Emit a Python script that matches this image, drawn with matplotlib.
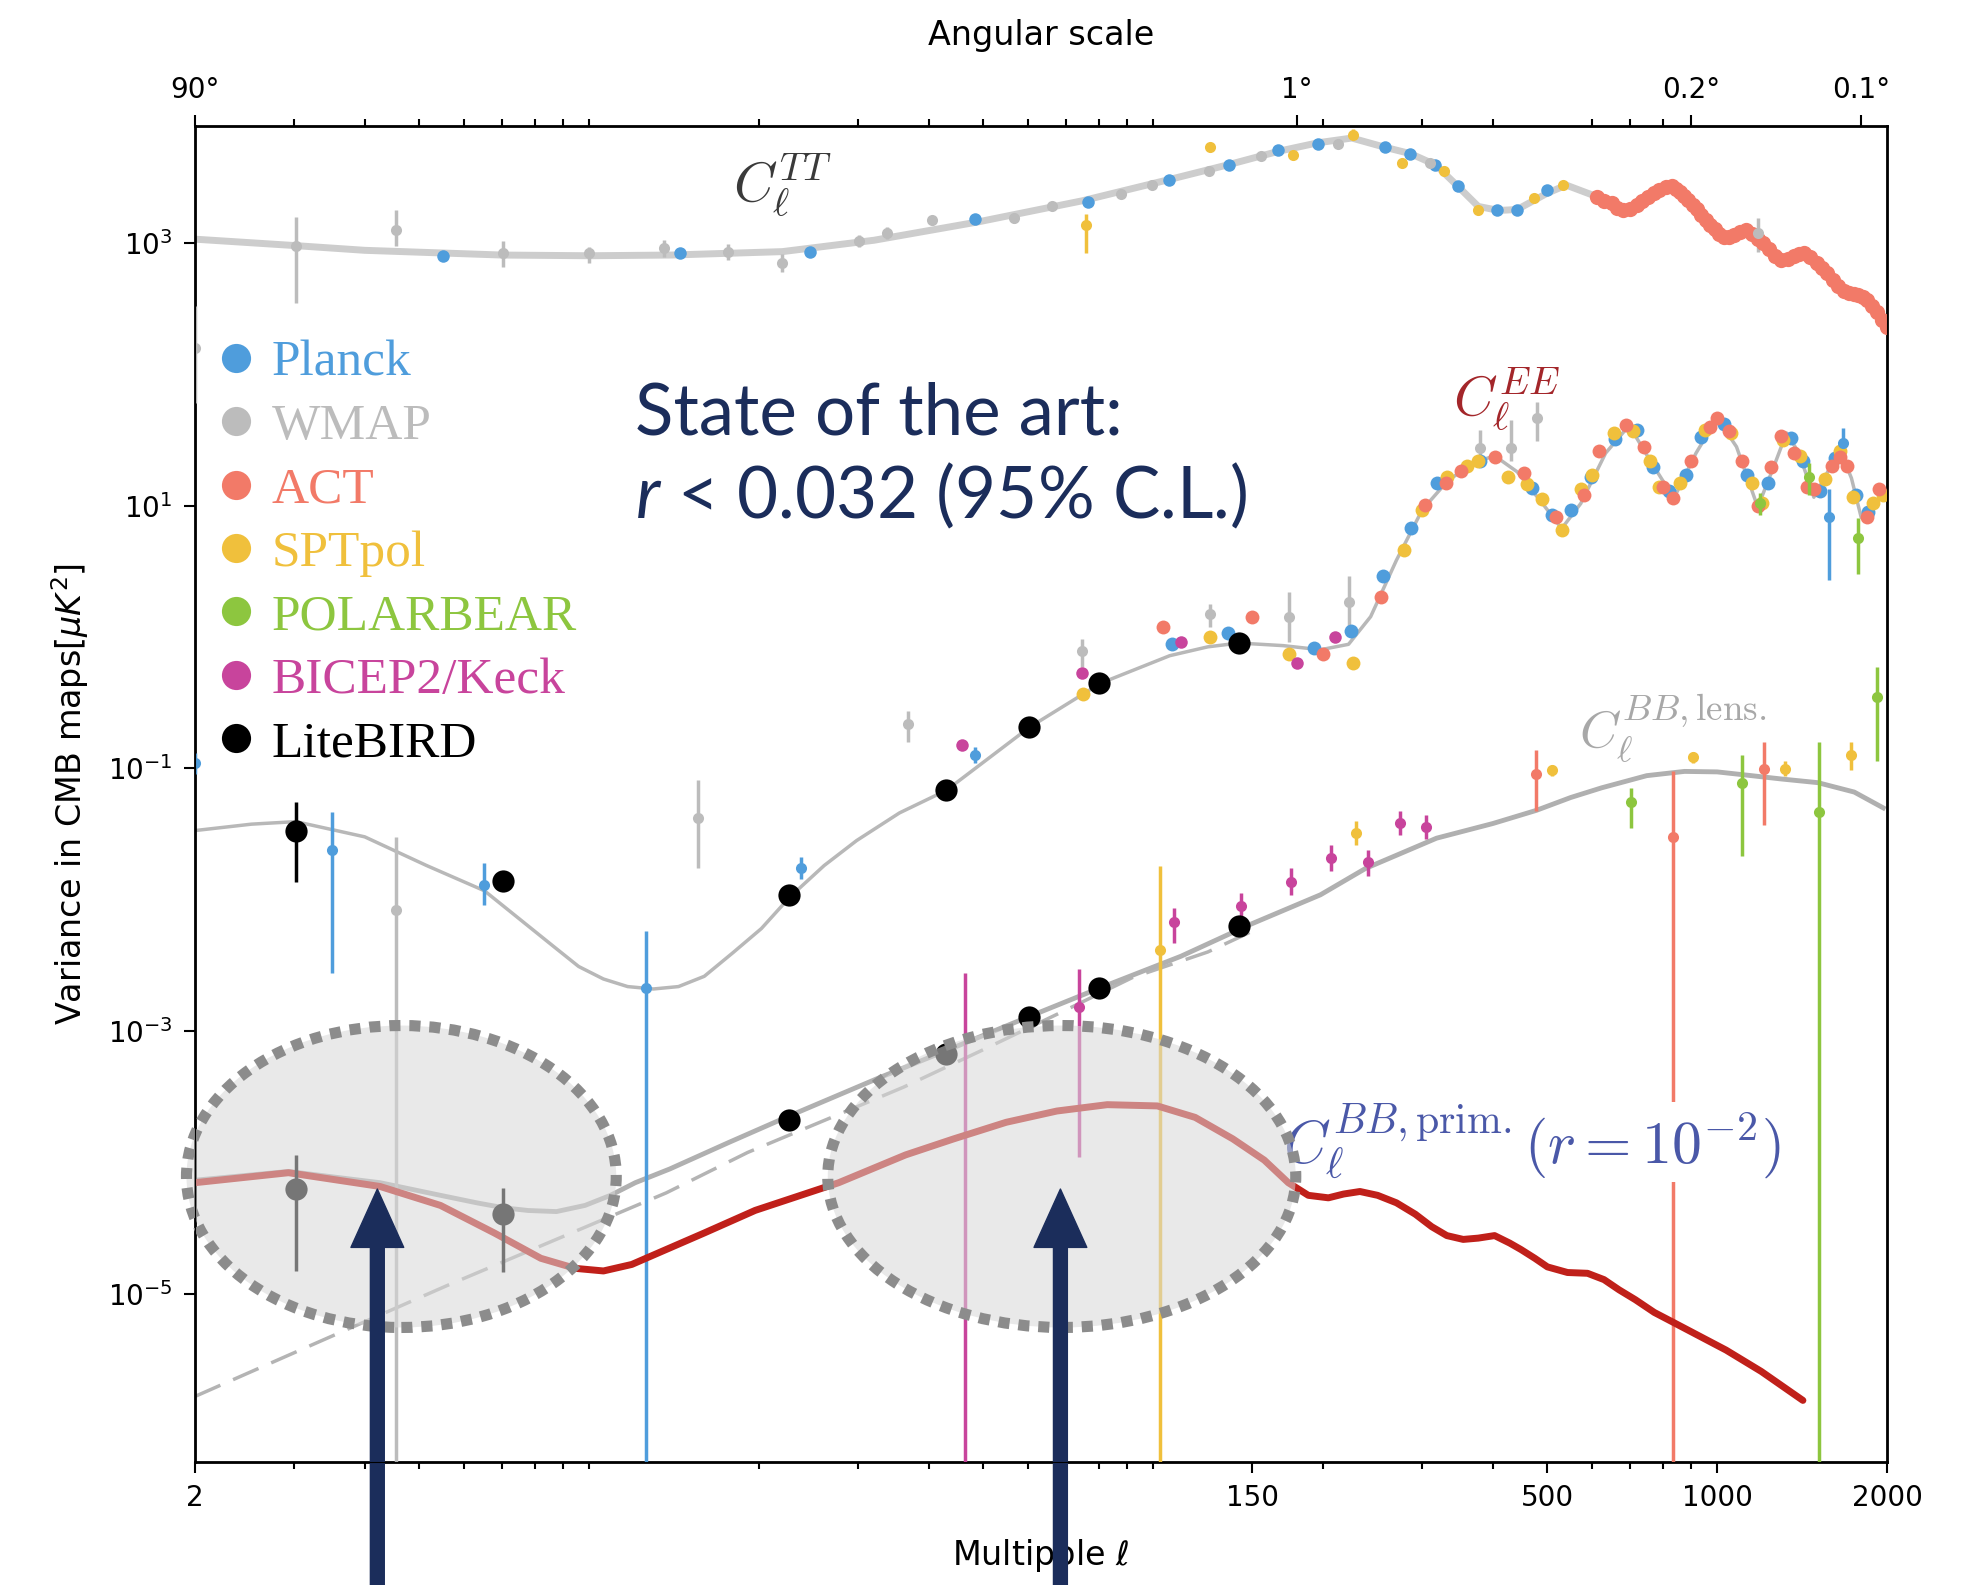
import numpy as np
import matplotlib
matplotlib.use('Agg')
import matplotlib.pyplot as plt
from matplotlib.patches import Ellipse
from matplotlib.lines import Line2D
from matplotlib.ticker import FixedLocator, NullFormatter

plt.rcParams['mathtext.rm'] = 'Lato'
plt.rcParams['mathtext.it'] = 'Lato:italic'

# theory curves, D_ell in muK^2
ell_tt = [2, 3, 4, 7, 10, 14, 22, 32, 49, 75, 107, 136, 167, 196, 225, 258, 286, 317, 347, 377,
          410, 442, 500, 540, 611, 681, 754, 832, 889, 955, 1027, 1126, 1235, 1300, 1426, 1500,
          1564, 1650, 1715, 1800, 1843, 1920, 2000]
cl_tt = [1070, 957, 880, 810, 800, 810, 860, 1050, 1450, 2100, 3050, 3950, 5000, 5800, 6300, 5350,
         4790, 3930, 2700, 1900, 1770, 1800, 2400, 2760, 2260, 1770, 2260, 2700, 2120, 1490, 1120,
         1250, 850, 720, 838, 650, 589, 440, 414, 390, 371, 290, 228]

ell_ee = [2, 2.52, 3.02, 4.0, 5.15, 6.52, 8.64, 9.58, 10.6, 11.7, 13.0, 14.4, 16.0, 18.0, 20.2,
          22.7, 26.1, 29.8, 35.5, 43.0, 60.3, 80.7, 107, 125, 142, 170, 198, 222, 243, 270, 300,
          333, 369, 403, 442, 490, 530, 573, 634, 698, 766, 838, 917, 1000, 1082, 1180, 1262,
          1327, 1397, 1484, 1570, 1652, 1730, 1800, 1893, 2000]
cl_ee = [0.0336, 0.0376, 0.0393, 0.0301, 0.0182, 0.0117, 0.00442, 0.00310, 0.00249, 0.00218,
         0.00209, 0.00218, 0.00261, 0.00396, 0.00603, 0.0105, 0.0182, 0.0282, 0.0458, 0.0681,
         0.205, 0.445, 0.721, 0.842, 0.900, 0.86, 0.80, 0.88, 1.43, 3.85, 9.31, 15.5, 21.1, 24.0,
         18.1, 10.4, 6.70, 10.4, 25.1, 40.8, 21.0, 11.4, 25.1, 46.6, 28.1, 9.75, 20.2, 35.8, 25.1,
         11.6, 18.1, 26.3, 16.2, 8.16, 10.4, 13.0]

ell_bb = [2, 2.93, 4.26, 5.45, 6.35, 7.08, 7.8, 8.75, 9.83, 10.9, 12.07, 13.9, 17.7, 22.6, 32.9,
          43.0, 60.3, 80.7, 112, 148, 198, 238, 318, 400, 478, 550, 624, 750, 875, 1000, 1131,
          1300, 1509, 1750, 1970]
cl_bb = [7.31e-5, 8.53e-5, 7.0e-5, 5.61e-5, 4.9e-5, 4.5e-5, 4.3e-5, 4.22e-5, 4.7e-5, 5.6e-5,
         7.0e-5, 8.91e-5, 1.42e-4, 2.25e-4, 4.46e-4, 7.10e-4, 1.29e-3, 2.14e-3, 3.71e-3, 6.43e-3,
         0.0109, 0.0173, 0.0294, 0.038, 0.0479, 0.060, 0.0711, 0.088, 0.0948, 0.094, 0.0887,
         0.083, 0.0778, 0.066, 0.0500]

ell_lens = [2, 3.26, 5.59, 9.07, 13.7, 19.1, 26.9, 36.1, 49.6, 67.5, 91.8, 125, 153]
cl_lens = [1.65e-6, 4.16e-6, 1.15e-5, 2.77e-5, 5.86e-5, 1.19e-4, 2.20e-4, 3.74e-4, 7.10e-4,
           1.34e-3, 2.55e-3, 4.0e-3, 6.0e-3]

ell_prim = [2, 2.93, 4.26, 5.45, 6.79, 8.21, 9.44, 10.6, 11.9, 16.0, 19.7, 27.7, 36.4, 44.3, 54.9,
            67.5, 82.9, 101.7, 118.7, 138.4, 157.4, 173.6, 188.4, 204.5, 217.6, 232.6, 250, 270,
            291.6, 311.7, 331.6, 354.6, 377, 403, 428.6, 448.8, 475, 500, 542.8, 589, 630, 670,
            716, 773.6, 836, 1037, 1197, 1419]
cl_prim = [7.0e-5, 8.34e-5, 6.55e-5, 4.70e-5, 2.90e-5, 1.86e-5, 1.56e-5, 1.49e-5, 1.67e-5, 2.90e-5,
           4.31e-5, 7.0e-5, 1.14e-4, 1.51e-4, 2.02e-4, 2.46e-4, 2.75e-4, 2.69e-4, 2.20e-4, 1.51e-4,
           1.04e-4, 7.0e-5, 5.61e-5, 5.37e-5, 5.74e-5, 6.0e-5, 5.61e-5, 4.92e-5, 4.03e-5, 3.24e-5,
           2.77e-5, 2.59e-5, 2.65e-5, 2.77e-5, 2.43e-5, 2.17e-5, 1.86e-5, 1.60e-5, 1.45e-5,
           1.43e-5, 1.28e-5, 1.07e-5, 9.0e-6, 7.2e-6, 6.05e-6, 3.72e-6, 2.56e-6, 1.54e-6]

# measurements
planck_tt_l = [5.5, 14.5, 24.6, 48.3, 76.7, 106.5, 136.3, 166.6, 196.3, 257.8, 285.6, 316.6, 347.3,
               407.5, 442, 500]
planck_tt_c = [800, 838, 857, 1520, 2070, 3010, 3930, 5120, 5720, 5350, 4790, 3930, 2700, 1770,
               1770, 2520]
planck_ee_l = [108, 136, 193, 224, 256, 286, 318, 380, 470, 510, 550, 597, 660, 720, 770, 820, 880,
               935, 1030, 1130, 1230, 1350, 1420, 1520, 1620, 1760, 1850]
planck_ee_c = [0.879, 1.07, 0.824, 1.12, 2.9, 6.8, 14.8, 22, 13.6, 8.5, 9.3, 16.6, 32, 38, 19.8,
               13, 17, 33.6, 42, 17, 15, 33, 22, 13, 23, 12, 9]
planck_eeb_l = [2, 3.5, 6.52, 12.6, 23.7, 48.3, 1580, 1670]
planck_eeb_c = [0.11, 0.0237, 0.0130, 0.00214, 0.0173, 0.126, 8.2, 30]
planck_eeb_lo = [0.09, 0.00277, 0.00905, 1e-8, 0.0143, 0.11, 2.7, 24]
planck_eeb_hi = [0.13, 0.0465, 0.0191, 0.00577, 0.021, 0.145, 13.3, 39]

wmap_tt_l = [2, 3.02, 4.55, 7.04, 9.98, 13.6, 17.6, 22.0, 30.1, 33.7, 40.6, 56.7, 66.1, 87.7, 99.7,
             125.6, 155, 213, 309, 1179]
wmap_tt_c = [160, 957, 1250, 838, 838, 915, 857, 702, 1045, 1190, 1490, 1560, 1900, 2360, 2760,
             3520, 4580, 5720, 4100, 1190]
wmap_tt_lo = [60, 347, 957, 658, 702, 780, 740, 600, 930, 1070, 1360, 1430, 1780, 2200, 2600, 3350,
              4380, 5500, 3900, 860]
wmap_tt_hi = [330, 1590, 1770, 1045, 936, 1060, 980, 820, 1160, 1320, 1620, 1700, 2030, 2520, 2930,
              3700, 4780, 5950, 4300, 1560]
wmap_ee_l = [4.55, 15.6, 36.8, 74.8, 126, 174, 222, 379, 431, 480]
wmap_ee_c = [0.00838, 0.042, 0.219, 0.789, 1.49, 1.43, 1.86, 27.5, 27.5, 46.7]
wmap_ee_lo = [1e-8, 0.0173, 0.159, 0.59, 1.2, 0.92, 1.15, 20, 22, 31]
wmap_ee_hi = [0.030, 0.0816, 0.274, 0.96, 1.8, 2.2, 2.9, 38, 45, 62]

act_tt_l = [611, 630, 650, 665, 681, 700, 720, 737, 754, 772, 790, 811, 832, 846, 860, 875, 889,
            905, 920, 937, 955, 972, 990, 1008, 1027, 1048, 1070, 1098, 1126, 1153, 1180, 1207,
            1235, 1267, 1300, 1335, 1370, 1398, 1426, 1463, 1500, 1532, 1564, 1602, 1640, 1678,
            1715, 1748, 1780, 1812, 1843, 1880, 1920, 1960, 2000]
act_tt_c = [2260, 2100, 2000, 1850, 1770, 1820, 1950, 2100, 2260, 2420, 2550, 2680, 2700, 2600,
            2450, 2280, 2120, 1950, 1800, 1630, 1490, 1370, 1280, 1180, 1120, 1120, 1150, 1220,
            1250, 1180, 1080, 1000, 900, 800, 740, 750, 800, 830, 838, 780, 700, 640, 589, 520,
            470, 430, 414, 410, 400, 385, 371, 330, 300, 260, 228]
act_ee_l = [104, 150, 200, 253, 303, 330, 352, 403, 455, 518, 580, 617, 690, 741, 800, 836, 900,
            970, 1000, 1050, 1108, 1180, 1245, 1300, 1370, 1440, 1484, 1600, 1650, 1700, 1843,
            1935]
act_ee_c = [1.2, 1.43, 0.74, 2.0, 10.1, 15, 18.5, 23.5, 17.7, 8.2, 12, 26.3, 40.8, 28, 14, 11.4,
            22, 40, 46.6, 37, 22, 10, 19.8, 34, 25.1, 14, 13.3, 20, 23.5, 20, 8.2, 13.3]
act_bb_l = [478, 836, 1210]
act_bb_c = [0.0907, 0.0301, 0.099]
act_bb_lo = [0.0476, 1e-8, 0.0373]
act_bb_hi = [0.137, 0.0954, 0.158]

spt_tt_l = [76, 126, 177, 226, 276, 328, 377, 473, 532]
spt_tt_c = [1360, 5350, 4680, 6670, 4100, 3520, 1770, 2210, 2760]
spt_tt_lo = [838, 5000, 4500, 6300, 3950, 3400, 1700, 2130, 2680]
spt_tt_hi = [1650, 5700, 4860, 7400, 4260, 3640, 1840, 2290, 2840]
spt_ee_l = [75, 126, 174, 226, 278, 300, 332, 360, 377, 425, 460, 490, 530, 573, 600, 655, 710,
            760, 790, 860, 950, 1060, 1155, 1200, 1310, 1400, 1550, 1650, 1740, 1890, 1970]
spt_ee_c = [0.37, 1.0, 0.74, 0.63, 4.6, 9.3, 16.6, 20, 22, 16.6, 14.5, 11.2, 6.5, 13.3, 17, 35.8,
            37.3, 22, 13.9, 14.8, 38, 35.8, 14.8, 10.5, 31.4, 24, 16, 26, 11.6, 10.4, 12]
spt_bb_l = [103, 229, 509, 907, 1320, 1724]
spt_bb_c = [4.14e-3, 0.0322, 0.097, 0.121, 0.099, 0.126]
spt_bb_lo = [1e-8, 0.026, 0.088, 0.11, 0.088, 0.098]
spt_bb_hi = [0.0182, 0.0395, 0.107, 0.134, 0.113, 0.16]

pb_ee_l = [1190, 1456, 1778]
pb_ee_c = [10.4, 16.5, 5.7]
pb_ee_lo = [8.5, 12, 3.0]
pb_ee_hi = [12.5, 21, 8.0]
pb_bb_l = [702, 1108, 1517, 1921]
pb_bb_c = [0.0558, 0.0778, 0.0468, 0.348]
pb_bb_lo = [0.0349, 0.0214, 1e-8, 0.114]
pb_bb_hi = [0.0712, 0.126, 0.159, 0.59]

bk_ee_l = [45.9, 74.8, 112, 180, 210]
bk_ee_c = [0.151, 0.53, 0.92, 0.632, 1.0]
bk_bb_l = [46.4, 74, 108.8, 143, 175.6, 207, 240, 274, 305]
bk_bb_c = [1e-8, 1.53e-3, 6.73e-3, 8.95e-3, 0.0136, 0.0207, 0.0194, 0.0384, 0.036]
bk_bb_lo = [1e-8, 1.09e-4, 4.7e-3, 7.0e-3, 0.0108, 0.0165, 0.0152, 0.031, 0.029]
bk_bb_hi = [2.78e-3, 2.97e-3, 8.6e-3, 1.12e-2, 0.0173, 0.026, 0.024, 0.047, 0.044]

lb_l = [3.02, 7.04, 22.6, 43, 60.3, 80, 142]
lb_ee_c = [0.0336, 0.0139, 0.0109, 0.0681, 0.205, 0.445, 0.900]
lb_ee_lo = [0.0136, 0.0125, 0.0100, 0.064, 0.195, 0.43, 0.87]
lb_ee_hi = [0.0559, 0.0155, 0.0118, 0.073, 0.215, 0.46, 0.93]
lb_bb_c = [6.27e-5, 4.03e-5, 2.11e-4, 6.64e-4, 1.29e-3, 2.14e-3, 6.29e-3]
lb_bb_lo = [1.49e-5, 1.46e-5, 1.9e-4, 6.2e-4, 1.22e-3, 2.05e-3, 6.1e-3]
lb_bb_hi = [1.14e-4, 6.4e-5, 2.3e-4, 7.0e-4, 1.36e-3, 2.23e-3, 6.5e-3]

names = ['Planck', 'WMAP', 'ACT', 'SPTpol', 'POLARBEAR', 'BICEP2/Keck', 'LiteBIRD']
colors = ['#4f9ddc', '#bcbcbc', '#f27a68', '#f0c03c', '#8dc63f', '#c8449c', '#000000']
c_planck, c_wmap, c_act, c_spt, c_pb, c_bk, c_lb = colors
navy = '#1b2d5b'

fig = plt.figure(figsize=(19.73, 15.85), dpi=100)
ax = fig.add_axes([0.0988, 0.0776, 0.8576, 0.8429])
ax.set_xscale('log')
ax.set_yscale('log')
ax.set_xlim(2, 2000)
ax.set_ylim(5.23e-7, 7780)


def pts(l, c, col, ms=9, z=3):
    ax.plot(l, c, 'o', color=col, ms=ms, mec='none', zorder=z)


def bars(l, c, lo, hi, col, ms=8, z=3):
    c = np.array(c)
    err = [c - np.array(lo), np.array(hi) - c]
    ax.errorbar(l, c, yerr=err, fmt='o', color=col, ms=ms, mec='none', elinewidth=2.5,
                capsize=0, zorder=z)


# theory
ax.plot(ell_tt, cl_tt, color='#cdcdcd', lw=5, zorder=2, solid_joinstyle='round')
ax.plot(ell_ee, cl_ee, color='#b8b8b8', lw=2.5, zorder=2, solid_joinstyle='round')
ax.plot(ell_lens, cl_lens, color='#b4b4b4', lw=2.5, dashes=(8, 4), zorder=2)
ax.plot(ell_bb, cl_bb, color='#b0b0b0', lw=3.5, zorder=2, solid_joinstyle='round')

# data
bars(wmap_tt_l, wmap_tt_c, wmap_tt_lo, wmap_tt_hi, c_wmap)
bars(wmap_ee_l, wmap_ee_c, wmap_ee_lo, wmap_ee_hi, c_wmap)
pts(planck_tt_l, planck_tt_c, c_planck)
pts(planck_ee_l, planck_ee_c, c_planck, ms=10)
bars(planck_eeb_l, planck_eeb_c, planck_eeb_lo, planck_eeb_hi, c_planck)
bars(spt_tt_l, spt_tt_c, spt_tt_lo, spt_tt_hi, c_spt)
pts(spt_ee_l, spt_ee_c, c_spt, ms=10)
bars(spt_bb_l, spt_bb_c, spt_bb_lo, spt_bb_hi, c_spt)
pts(act_tt_l, act_tt_c, c_act, ms=11)
pts(act_ee_l, act_ee_c, c_act, ms=10)
bars(act_bb_l, act_bb_c, act_bb_lo, act_bb_hi, c_act)
bars(pb_ee_l, pb_ee_c, pb_ee_lo, pb_ee_hi, c_pb)
bars(pb_bb_l, pb_bb_c, pb_bb_lo, pb_bb_hi, c_pb)
pts(bk_ee_l, bk_ee_c, c_bk)
bars(bk_bb_l, bk_bb_c, bk_bb_lo, bk_bb_hi, c_bk)

ax.plot(ell_prim, cl_prim, color='#c0201a', lw=5, zorder=4, solid_capstyle='round',
        solid_joinstyle='round')

bars(lb_l, lb_ee_c, lb_ee_lo, lb_ee_hi, c_lb, ms=16, z=5)
bars(lb_l, lb_bb_c, lb_bb_lo, lb_bb_hi, c_lb, ms=16, z=5)

# highlighted regions
for cx, w in [(0.122, 0.254), (0.5123, 0.2766)]:
    ax.add_patch(Ellipse((cx, 0.2137), w, 0.226, transform=ax.transAxes, fc='#d8d8d8',
                         ec='none', alpha=0.55, zorder=6, clip_on=False))
    ax.add_patch(Ellipse((cx, 0.2137), w, 0.226, transform=ax.transAxes, fc='none',
                         ec='#8c8c8c', lw=8, ls=(0, (1.0, 0.8)), zorder=6.5, clip_on=False))

for xa in [0.1078, 0.5115]:
    ax.annotate('', xy=(xa, 0.2043), xytext=(xa, -0.13), xycoords='axes fraction',
                arrowprops=dict(facecolor=navy, edgecolor=navy, width=10, headwidth=38,
                                headlength=42, shrink=0), annotation_clip=False, zorder=7)

# labels on the curves
ax.text(0.318, 0.9435, r'$C_\ell^{TT}$', transform=ax.transAxes, fontsize=40, color='#3a3a3a',
        math_fontfamily='cm', va='baseline', zorder=8)
ax.text(0.7435, 0.7834, r'$C_\ell^{EE}$', transform=ax.transAxes, fontsize=40, color='#a3262a',
        math_fontfamily='cm', va='baseline', zorder=8)
ax.text(0.8178, 0.534, r'$C_\ell^{BB,\mathrm{lens.}}$', transform=ax.transAxes, fontsize=38,
        color='#a8a8a8', math_fontfamily='cm', va='baseline', zorder=8)
ax.text(0.643, 0.2232, r'$C_\ell^{BB,\mathrm{prim.}}(r=10^{-2})$', transform=ax.transAxes,
        fontsize=43, color='#4a58a8', math_fontfamily='cm', va='baseline', zorder=3.5,
        bbox=dict(fc='white', ec='none', pad=0))

ax.text(0.26, 0.769, 'State of the art:', transform=ax.transAxes, fontsize=51, color=navy,
        family='Lato', va='baseline', zorder=8)
ax.text(0.26, 0.706, r'$r$ < 0.032 (95% C.L.)', transform=ax.transAxes, fontsize=51, color=navy,
        family='Lato', math_fontfamily='custom', va='baseline', zorder=8)

# legend
handles = [Line2D([], [], ls='', marker='o', color=c, ms=21, mec='none') for c in colors]
ax.legend(handles, names, loc='upper left', bbox_to_anchor=(0.012, 0.84), frameon=False,
          prop={'family': 'Liberation Serif', 'size': 37}, labelcolor=colors,
          handletextpad=0.3, handlelength=0.8, labelspacing=0.32, borderpad=0,
          borderaxespad=0)

# axes cosmetics
minor_l = [3, 4, 5, 6, 7, 8, 9, 10, 20, 30, 40, 50, 60, 70, 80, 90, 100, 200, 300, 400, 600, 700,
           800, 900]
ax.xaxis.set_major_locator(FixedLocator([2, 150, 500, 1000, 2000]))
ax.set_xticklabels(['2', '150', '500', '1000', '2000'])
ax.xaxis.set_minor_locator(FixedLocator(minor_l))
ax.xaxis.set_minor_formatter(NullFormatter())
ax.yaxis.set_major_locator(FixedLocator([1e-5, 1e-3, 1e-1, 1e1, 1e3]))
ax.set_yticklabels([r'$10^{-5}$', r'$10^{-3}$', r'$10^{-1}$', r'$10^{1}$', r'$10^{3}$'])
ax.yaxis.set_minor_locator(FixedLocator([]))
ax.tick_params(which='both', direction='out', labelsize=20, width=1.5)
ax.tick_params(which='major', length=8, pad=8)
ax.tick_params(which='minor', length=5)
for s in ax.spines.values():
    s.set_linewidth(2)

ax.set_xlabel(r'Multipole $\ell$', fontsize=24, labelpad=18)
ax.set_ylabel(r'Variance in CMB maps$[\mu K^2]$', fontsize=24, labelpad=12)

ax2 = ax.twiny()
ax2.set_xscale('log')
ax2.set_xlim(2, 2000)
ax2.xaxis.set_major_locator(FixedLocator([2, 180, 900, 1800]))
ax2.set_xticklabels(['90°', '1°', '0.2°', '0.1°'])
ax2.xaxis.set_minor_locator(FixedLocator(minor_l))
ax2.xaxis.set_minor_formatter(NullFormatter())
ax2.tick_params(which='both', direction='out', labelsize=20, width=1.5)
ax2.tick_params(which='major', length=8, pad=8)
ax2.tick_params(which='minor', length=5)
ax2.set_xlabel('Angular scale', fontsize=24, labelpad=22)

fig.savefig('out.png', dpi=100)
